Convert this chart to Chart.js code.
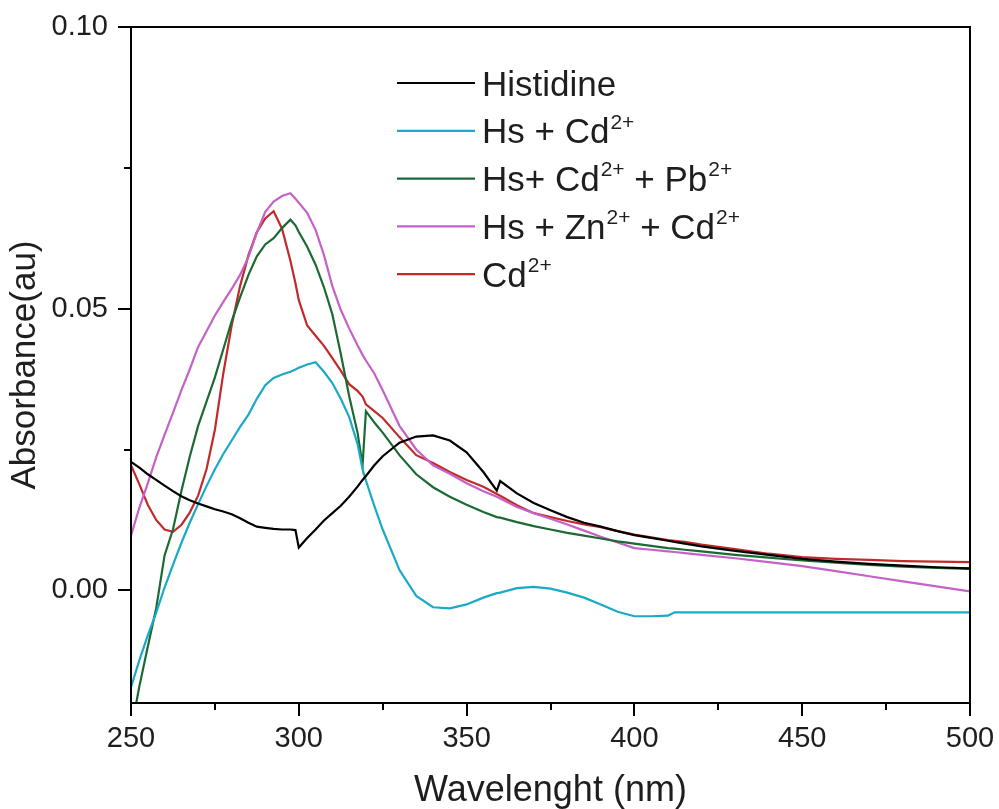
<!DOCTYPE html>
<html>
<head>
<meta charset="utf-8">
<script src="https://cdn.jsdelivr.net/npm/chart.js@4.4.1/dist/chart.umd.min.js"></script>
<style>
  html, body { margin: 0; padding: 0; background: #fff; }
  #wrap { width: 999px; height: 809px; }
</style>
</head>
<body>
<div id="wrap"><canvas id="absChart" width="999" height="809"></canvas></div>
<script>
// wavelength grid (nm)
var wavelength = [250, 252.5, 255, 257.5, 260, 262.5, 265, 267.5, 270, 272.5, 275, 277.5, 280, 282.5, 285, 287.5, 290, 292.5, 295, 297.5, 299, 300, 302.5, 305, 307.5, 310, 312.5, 315, 317.5, 319, 320, 322.5, 325, 330, 335, 340, 345, 350, 355, 359, 360, 365, 370, 375, 380, 385, 390, 395, 400, 405, 410, 412, 415, 420, 430, 440, 450, 460, 470, 480, 490, 500];

var histidine = [0.0228, 0.0218, 0.0206, 0.0196, 0.0186, 0.0176, 0.0167, 0.0160, 0.0154, 0.0149, 0.0144, 0.0140, 0.0135, 0.0128, 0.0120, 0.0113, 0.0111, 0.0109, 0.0108, 0.0108, 0.0107, 0.0076, 0.0093, 0.0108, 0.0124, 0.0137, 0.0150, 0.0166, 0.0184, 0.0196, 0.0203, 0.0222, 0.0238, 0.0262, 0.0273, 0.0275, 0.0266, 0.0245, 0.0210, 0.0177, 0.0194, 0.0172, 0.0155, 0.0142, 0.0130, 0.0120, 0.0113, 0.0105, 0.0098, 0.0093, 0.0088, 0.0086, 0.0083, 0.0078, 0.0070, 0.0063, 0.0056, 0.0051, 0.0047, 0.0044, 0.0041, 0.0039];

var hsCd = [-0.0172, -0.0124, -0.0080, -0.0040, 0.0005, 0.0045, 0.0084, 0.0120, 0.0153, 0.0185, 0.0215, 0.0242, 0.0266, 0.0290, 0.0312, 0.0340, 0.0364, 0.0377, 0.0383, 0.0388, 0.0392, 0.0395, 0.0401, 0.0405, 0.0388, 0.0368, 0.0340, 0.0308, 0.0260, 0.0215, 0.0195, 0.0150, 0.0108, 0.0036, -0.0010, -0.0030, -0.0032, -0.0025, -0.0013, -0.0005, -0.0004, 0.0004, 0.0006, 0.0003, -0.0004, -0.0013, -0.0025, -0.0038, -0.0046, -0.0046, -0.0045, -0.0039, -0.0039, -0.0039, -0.0039, -0.0039, -0.0039, -0.0039, -0.0039, -0.0039, -0.0039, -0.0039];

var hsCdPb = [-0.0250, -0.0170, -0.0100, -0.0032, 0.0062, 0.0108, 0.0176, 0.0237, 0.0292, 0.0335, 0.0378, 0.0428, 0.0478, 0.0520, 0.0560, 0.0593, 0.0614, 0.0625, 0.0643, 0.0658, 0.0648, 0.0636, 0.0610, 0.0578, 0.0538, 0.0490, 0.0420, 0.0345, 0.0280, 0.0222, 0.0318, 0.0298, 0.0280, 0.0240, 0.0206, 0.0183, 0.0166, 0.0152, 0.0139, 0.0130, 0.0129, 0.0121, 0.0114, 0.0108, 0.0102, 0.0097, 0.0092, 0.0087, 0.0083, 0.0079, 0.0075, 0.0074, 0.0072, 0.0069, 0.0063, 0.0058, 0.0053, 0.0049, 0.0045, 0.0042, 0.0040, 0.0038];

var hsZnCd = [0.0097, 0.0147, 0.0190, 0.0236, 0.0276, 0.0315, 0.0355, 0.0392, 0.0432, 0.0460, 0.0488, 0.0512, 0.0535, 0.0560, 0.0592, 0.0635, 0.0672, 0.0690, 0.0700, 0.0705, 0.0695, 0.0688, 0.0670, 0.0640, 0.0595, 0.0540, 0.0498, 0.0465, 0.0435, 0.0418, 0.0408, 0.0385, 0.0355, 0.0292, 0.0250, 0.0222, 0.0207, 0.0190, 0.0176, 0.0166, 0.0163, 0.0148, 0.0137, 0.0127, 0.0117, 0.0106, 0.0095, 0.0085, 0.0075, 0.0072, 0.0069, 0.0068, 0.0066, 0.0063, 0.0057, 0.0050, 0.0043, 0.0034, 0.0025, 0.0016, 0.0007, -0.0002];

var cd = [0.0222, 0.0188, 0.0152, 0.0125, 0.0108, 0.0104, 0.0116, 0.0138, 0.0168, 0.0215, 0.0285, 0.0385, 0.0470, 0.0540, 0.0595, 0.0636, 0.0660, 0.0673, 0.0642, 0.0585, 0.0545, 0.0515, 0.0470, 0.0452, 0.0434, 0.0412, 0.0390, 0.0366, 0.0354, 0.0344, 0.0330, 0.0318, 0.0306, 0.0272, 0.0240, 0.0226, 0.0210, 0.0196, 0.0184, 0.0171, 0.0168, 0.0151, 0.0137, 0.0130, 0.0123, 0.0117, 0.0112, 0.0105, 0.0099, 0.0094, 0.0089, 0.0088, 0.0086, 0.0081, 0.0073, 0.0065, 0.0059, 0.0056, 0.0054, 0.0052, 0.0051, 0.0050];

// legend text, ^{..} marks a superscript
var seriesNames = ['Histidine', 'Hs + Cd^{2+}', 'Hs+ Cd^{2+} + Pb^{2+}', 'Hs + Zn^{2+} + Cd^{2+}', 'Cd^{2+}'];
var seriesColors = ['#000000', '#1aa9c6', '#1b6a34', '#c462c8', '#c22a2a'];
var seriesValues = [histidine, hsCd, hsCdPb, hsZnCd, cd];

var xMajor = [250, 300, 350, 400, 450, 500];
var xMinor = [275, 325, 375, 425, 475];
var yMajor = [0, 0.05, 0.10];
var yMinor = [0.025, 0.075];

var FONT = "'Liberation Sans', Arial, sans-serif";

function plainName(s) {
  return s.replace(/\^\{2\+\}/g, '\u00b2\u207a');
}

var datasets = seriesValues.map(function(vals, i) {
  return {
    label: plainName(seriesNames[i]),
    data: wavelength.map(function(w, j) { return {x: w, y: vals[j]}; }),
    borderColor: seriesColors[i],
    borderWidth: 2.2,
    pointRadius: 0,
    tension: 0,
    fill: false
  };
});

// box, tick marks and the legend with superscripts
var framePlugin = {
  id: 'frame',
  afterDraw: function(chart) {
    var ctx = chart.ctx, a = chart.chartArea;
    var xs = chart.scales.x, ys = chart.scales.y;
    ctx.save();
    ctx.strokeStyle = '#000';
    ctx.lineWidth = 2;
    ctx.strokeRect(a.left, a.top, a.right - a.left, a.bottom - a.top);
    ctx.beginPath();
    xMajor.concat(xMinor).forEach(function(v) {
      var px = Math.round(xs.getPixelForValue(v));
      var len = xMajor.indexOf(v) >= 0 ? 13 : 7;
      ctx.moveTo(px, a.bottom);
      ctx.lineTo(px, a.bottom + len);
    });
    yMajor.concat(yMinor).forEach(function(v) {
      var py = Math.round(ys.getPixelForValue(v));
      var len = yMajor.indexOf(v) >= 0 ? 13 : 7;
      ctx.moveTo(a.left, py);
      ctx.lineTo(a.left - len, py);
    });
    ctx.stroke();

    // legend
    var size = 35, supSize = 21;
    var lx0 = a.left + 266, lx1 = a.left + 344, tx = a.left + 351;
    seriesNames.forEach(function(name, i) {
      var y = a.top + 56 + i * 47.8;
      ctx.strokeStyle = seriesColors[i];
      ctx.lineWidth = 2.2;
      ctx.beginPath();
      ctx.moveTo(lx0, y);
      ctx.lineTo(lx1, y);
      ctx.stroke();
      var parts = name.split(/\^\{([^}]*)\}/);
      var x = tx;
      var base = y + size * 0.358;
      ctx.fillStyle = '#1e1e1e';
      ctx.textBaseline = 'alphabetic';
      ctx.textAlign = 'left';
      parts.forEach(function(p, k) {
        if (!p) return;
        if (k % 2 === 0) {
          ctx.font = size + 'px ' + FONT;
          ctx.fillText(p, x, base);
        } else {
          ctx.font = supSize + 'px ' + FONT;
          ctx.fillText(p, x + 1, base - size * 0.42);
        }
        x += ctx.measureText(p).width + (k % 2 ? 1 : 0);
      });
    });
    ctx.restore();
  }
};

new Chart(document.getElementById('absChart'), {
  type: 'line',
  data: { datasets: datasets },
  options: {
    responsive: false,
    animation: false,
    layout: { padding: { left: 0, right: 29, top: 27, bottom: 0 } },
    plugins: {
      legend: { display: false },
      tooltip: { enabled: false }
    },
    scales: {
      x: {
        type: 'linear',
        min: 250,
        max: 500,
        afterFit: function(s) { s.height = 106; s.paddingLeft = 0; s.paddingRight = 0; },
        afterBuildTicks: function(s) { s.ticks = xMajor.map(function(v) { return {value: v}; }); },
        grid: { display: false, drawTicks: false },
        border: { display: false },
        ticks: {
          padding: 19,
          color: '#1e1e1e',
          font: { family: FONT, size: 29 },
          maxRotation: 0,
          callback: function(v) { return v; }
        },
        title: {
          display: true,
          text: 'Wavelenght (nm)',
          color: '#1e1e1e',
          font: { family: FONT, size: 36, lineHeight: 1 },
          padding: { top: 0, bottom: 0 }
        }
      },
      y: {
        type: 'linear',
        min: -0.02,
        max: 0.10,
        afterFit: function(s) { s.width = 131; s.paddingTop = 0; s.paddingBottom = 0; },
        afterBuildTicks: function(s) { s.ticks = yMajor.map(function(v) { return {value: v}; }); },
        grid: { display: false, drawTicks: false },
        border: { display: false },
        ticks: {
          padding: 23,
          color: '#1e1e1e',
          font: { family: FONT, size: 29 },
          callback: function(v) { return Number(v).toFixed(2); }
        },
        title: {
          display: true,
          text: 'Absorbance(au)',
          color: '#1e1e1e',
          font: { family: FONT, size: 35, lineHeight: 1 },
          padding: { top: 8, bottom: 0 }
        }
      }
    }
  },
  plugins: [framePlugin]
});
</script>
</body>
</html>
